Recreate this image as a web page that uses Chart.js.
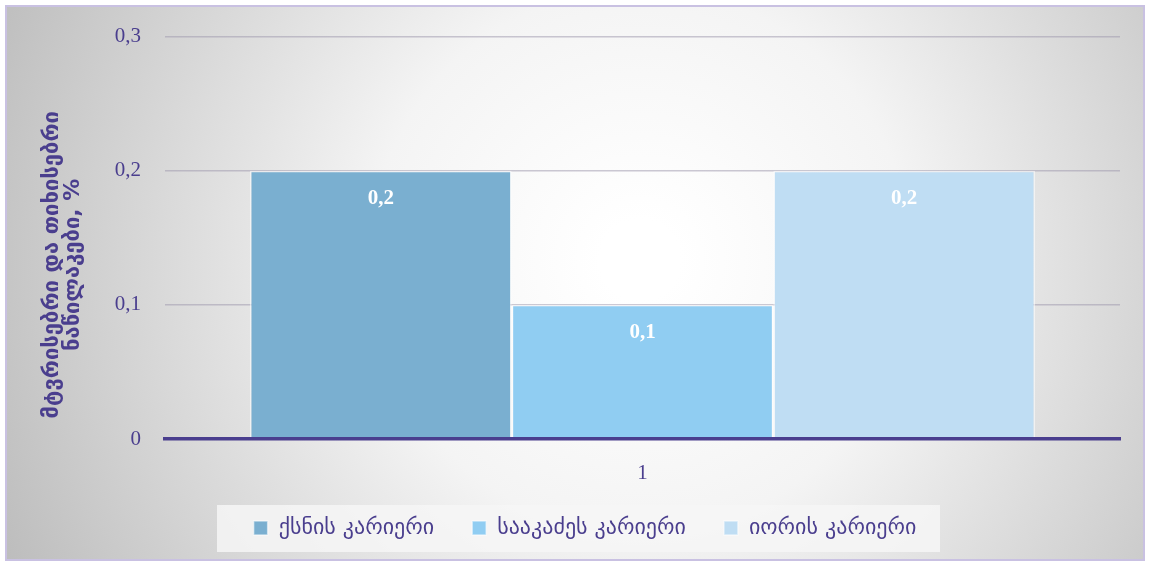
<!DOCTYPE html>
<html>
<head>
<meta charset="utf-8">
<script src="https://cdn.jsdelivr.net/npm/chart.js@4"></script>
<style>
  html, body { margin: 0; padding: 0; background: #fff; }
  #wrap { width: 1150px; height: 564px; position: relative; }
</style>
</head>
<body>
<div id="wrap"><canvas id="grafico"></canvas></div>
<script>
const categories = ['1'];
const seriesNames = ['ქსნის კარიერი', 'სააკაძეს კარიერი', 'იორის კარიერი'];
const seriesValues = [[0.2], [0.1], [0.2]];
const seriesColors = ['#7aafd0', '#90cdf2', '#bfddf3'];
const yTicks = [0, 0.1, 0.2, 0.3];
const yTitle = ['მტვრისებრი და თიხისებრი', 'ნაწილაკები, %'];

const purple = '#4a3e8e';
const fmt = v => v === 0 ? '0' : String(Math.round(v * 10) / 10).replace('.', ',');

// fondo con degradado radial, marco y caja de la leyenda
const fondo = {
    id: 'fondo',
    afterLayout(chart) {
        const l = chart.legend;
        l.left += 21;
        l.right += 21;
        l.adjustHitBoxes();
    },
    beforeDraw(chart) {
        const c = chart.ctx, w = chart.width, h = chart.height;
        const g = c.createRadialGradient(640, 260, 40, 640, 260, 700);
        g.addColorStop(0, '#ffffff');
        g.addColorStop(0.35, '#f4f4f4');
        g.addColorStop(1, '#bdbdbd');
        c.save();
        c.fillStyle = g;
        c.fillRect(6, 6, w - 12, h - 10);
        c.strokeStyle = '#c9c1e2';
        c.lineWidth = 2;
        c.strokeRect(6, 6, w - 12, h - 10);
        // caja de la leyenda
        c.fillStyle = 'rgba(246,246,246,0.85)';
        c.fillRect(217, 505, 723, 47);
        // titulo del eje y
        const a = chart.chartArea;
        c.fillStyle = purple;
        c.font = 'bold 22px "DejaVu Sans", sans-serif';
        c.textAlign = 'center';
        c.textBaseline = 'middle';
        yTitle.forEach((t, i) => {
            c.save();
            c.translate(52 + i * 21, (a.top + a.bottom) / 2 + 27);
            c.rotate(-Math.PI / 2);
            c.fillText(t, 0, 0);
            c.restore();
        });
        c.restore();
    }
};

// etiquetas de valor dentro de las barras
const etiquetas = {
    id: 'etiquetas',
    afterDatasetsDraw(chart) {
        const c = chart.ctx;
        c.save();
        c.fillStyle = '#ffffff';
        c.font = 'bold 21px "Liberation Serif", "DejaVu Serif", serif';
        c.textAlign = 'center';
        c.textBaseline = 'middle';
        chart.data.datasets.forEach((ds, i) => {
            chart.getDatasetMeta(i).data.forEach((bar, j) => {
                c.fillText(fmt(ds.data[j]), bar.x, bar.y + 28);
            });
        });
        c.restore();
    }
};

const ctx = document.getElementById('grafico').getContext('2d');
const chart = new Chart(ctx, {
    type: 'bar',
    data: {
        labels: categories,
        datasets: seriesNames.map((n, i) => ({
            label: n,
            data: seriesValues[i],
            backgroundColor: seriesColors[i],
            borderColor: 'rgba(255,255,255,0.55)',
            borderWidth: 1.5,
            barPercentage: 1.0,
            categoryPercentage: 0.822
        }))
    },
    options: {
        responsive: true,
        maintainAspectRatio: false,
        animation: false,
        layout: { padding: { top: 34, left: 8, right: 30, bottom: 15 } },
        plugins: {
            tooltip: { enabled: false },
            legend: {
                position: 'bottom',
                labels: {
                    color: purple,
                    font: { family: '"DejaVu Sans", sans-serif', size: 22 },
                    boxWidth: 14,
                    boxHeight: 14,
                    padding: 38
                }
            }
        },
        scales: {
            x: {
                grid: { display: false, drawTicks: false },
                border: { display: true, color: purple, width: 3.5, z: 1 },
                ticks: {
                    color: purple,
                    padding: 22,
                    font: { family: '"Liberation Serif", "DejaVu Serif", serif', size: 21 }
                },
                afterFit: s => { s.height = 40; }
            },
            y: {
                min: 0,
                max: 0.3,
                afterBuildTicks: s => { s.ticks = yTicks.map(v => ({ value: v })); },
                grid: {
                    drawTicks: false,
                    color: c => c.tick.value === 0 ? 'rgba(0,0,0,0)' : 'rgba(160,155,175,0.55)',
                    lineWidth: 1.5
                },
                border: { display: false },
                ticks: {
                    color: purple,
                    padding: 24,
                    font: { family: '"Liberation Serif", "DejaVu Serif", serif', size: 21 },
                    callback: v => fmt(v)
                },
                afterFit: s => { s.width = 157; }
            }
        }
    },
    plugins: [fondo, etiquetas]
});
</script>
</body>
</html>
